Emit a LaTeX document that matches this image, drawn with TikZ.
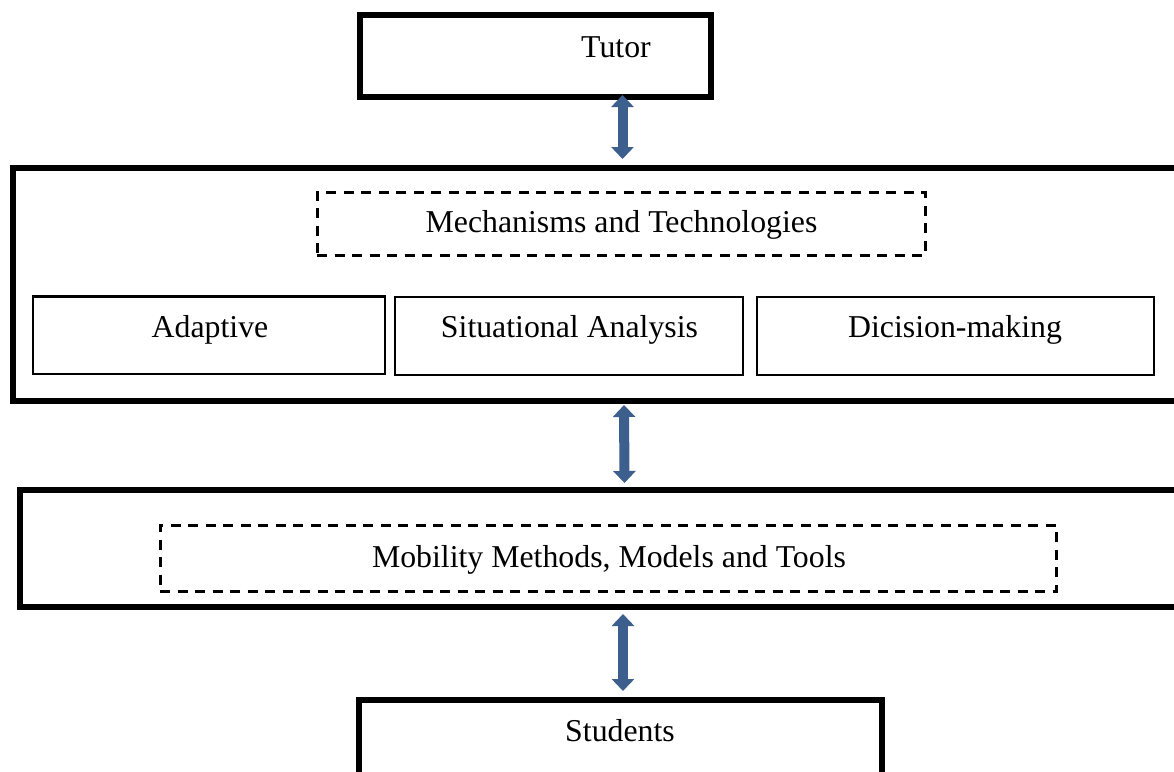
\documentclass[tikz,border=0pt]{standalone}
\usepackage{fontspec}
\setmainfont{Liberation Serif}
\usetikzlibrary{arrows.meta,calc}
\definecolor{arrowblue}{RGB}{61,95,141}
\tikzset{
  heavybox/.style={draw=black, line width=6pt, rectangle, inner sep=0pt, fill=none},
  thinbox/.style={draw=black, line width=2.6pt, rectangle, inner sep=0pt},
  dashbox/.style={draw=black, line width=3pt, dash pattern=on 10pt off 7.5pt, rectangle, inner sep=0pt},
  lbl/.style={anchor=base, inner sep=0pt, font=\fontsize{31.8}{38}\selectfont},
  linkarrow/.style={draw=arrowblue, line width=10pt,
    {Triangle[width=22pt,length=12pt]}-{Triangle[width=22pt,length=12pt]}}
}
\begin{document}
\begin{tikzpicture}[x=1pt,y=-1pt]
\useasboundingbox (0,0) rectangle (1174,771);
\clip (0,0) rectangle (1174,771);
\fill[white] (0,0) rectangle (1174,771);

% tutor at the top
\node[heavybox, minimum width=351pt, minimum height=82.5pt] (tutor) at (535.5,55.75) {};
\node[lbl] (tutorlbl) at (616,57) {Tutor};

% mechanisms and technologies layer
\node[heavybox, minimum width=1177pt, minimum height=233pt] (core) at (601.5,284.5) {};
\node[dashbox, minimum width=608pt, minimum height=63pt] (mech) at (621,223.5) {};
\node[lbl] (mechlbl) at (621.5,232) {Mechanisms and Technologies};
\node[thinbox, minimum width=352pt, minimum height=77.5pt] (adapt) at (209,335.25) {};
\node[lbl] (adaptlbl) at (210,337) {Adaptive};
\node[thinbox, minimum width=348pt, minimum height=78pt] (situ) at (569,336) {};
\node[lbl] (situlbl) at (569.5,337) {Situational Analysis};
\node[thinbox, minimum width=397pt, minimum height=78pt] (decis) at (955.5,336) {};
\node[lbl] (decislbl) at (955,337) {Dicision-making};

% mobility layer
\node[heavybox, minimum width=1170pt, minimum height=117pt] (mobil) at (605,548.5) {};
\node[dashbox, minimum width=896pt, minimum height=66pt] (mobdash) at (608,558) {};
\node[lbl] (mobillbl) at (609,567) {Mobility Methods, Models and Tools};

% students at the bottom
\node[heavybox, minimum width=523pt, minimum height=100pt] (students) at (620.5,750) {};
\node[lbl] (studlbl) at (620,741) {Students};

% two-way links between the layers
\draw[linkarrow] ($(tutor.south)+(87,-5)$) -- ($(core.north)+(21,-6)$);
\draw[linkarrow] ($(core.south)+(22.5,1)$) -- ($(mobil.north)+(19.5,-4)$);
\draw[linkarrow] ($(mobil.south)+(18,4)$) -- ($(students.north)+(2.5,-6)$);
\end{tikzpicture}
\end{document}
